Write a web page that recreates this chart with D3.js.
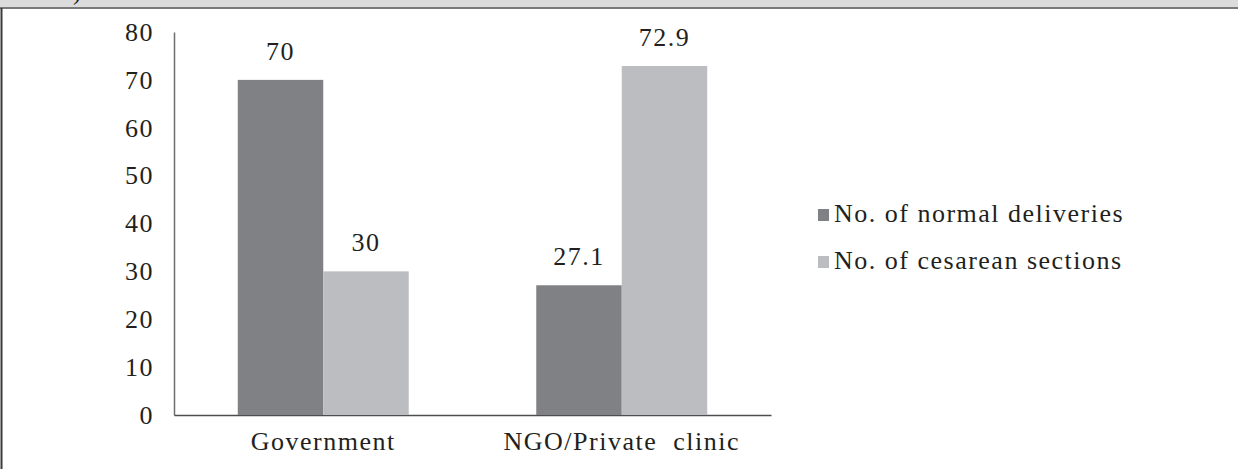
<!DOCTYPE html>
<html>
<head>
<meta charset="utf-8">
<script src="https://cdn.jsdelivr.net/npm/d3@7"></script>
<style>
  html, body { margin: 0; padding: 0; background: #fff; }
  svg { display: block; }
  text { font-family: "Liberation Serif", "Times New Roman", serif; fill: #231f20; letter-spacing: 1.5px; }
</style>
</head>
<body>
<svg id="chart" width="1238" height="469"></svg>
<script>
// Delivery type by facility (%)
const categories = ["Government", "NGO/Private  clinic"];
const seriesNames = ["No. of normal deliveries", "No. of cesarean sections"];
const normalDeliveries = [70, 27.1];
const cesareanSections = [30, 72.9];
const yTicks = [0, 10, 20, 30, 40, 50, 60, 70, 80];

const seriesValues = [normalDeliveries, cesareanSections];
const colors = ["#808184", "#bcbdc0"];

const svg = d3.select("#chart");
const W = 1238, H = 469;
const FONT = '"Liberation Serif", "Times New Roman", serif';

// header strip with rule and left frame line
svg.append("rect").attr("x", 0).attr("y", 0).attr("width", W).attr("height", 8).attr("fill", "#dcdcdc");
svg.append("line").attr("x1", 0).attr("x2", W).attr("y1", 8).attr("y2", 8)
  .attr("stroke", "#7a7a7a").attr("stroke-width", 2);
svg.append("line").attr("x1", 1.5).attr("x2", 1.5).attr("y1", 8).attr("y2", H)
  .attr("stroke", "#3a3a3a").attr("stroke-width", 2);
svg.append("text").attr("x", 73).attr("y", 0).attr("font-size", 24).text(")");

const plot = { left: 174, right: 771, top: 32, bottom: 415 };

const x0 = d3.scaleBand().domain(categories).range([plot.left, plot.right]).padding(0);
const x1 = d3.scaleBand().domain(seriesNames).range([0, x0.bandwidth()])
  .paddingInner(0).paddingOuter(0.746);
const y = d3.scaleLinear().domain([0, 80]).range([plot.bottom, plot.top]);

const fs = 26;

// y axis
const yAxis = d3.axisLeft(y).tickValues(yTicks).tickSize(0).tickPadding(20).tickFormat(d3.format("d"));
const gy = svg.append("g").attr("transform", `translate(${plot.left},0)`).call(yAxis);
gy.select(".domain").attr("stroke", "#6d6e71").attr("stroke-width", 1.5);
gy.selectAll("text").attr("font-size", fs).attr("fill", "#231f20")
  .attr("font-family", FONT).attr("dy", "0.32em");

// x baseline with category labels
const xAxis = d3.axisBottom(x0).tickSize(0).tickPadding(0);
const gx = svg.append("g").attr("transform", `translate(0,${plot.bottom})`).call(xAxis);
gx.select(".domain").attr("stroke", "#4d4d4f").attr("stroke-width", 1.5);
gx.selectAll("text").attr("font-size", fs).attr("fill", "#231f20")
  .attr("font-family", FONT).attr("dy", 0).attr("y", 35)
  .style("white-space", "pre");

// bars
const rows = categories.map((c, i) => ({ cat: c, vals: seriesNames.map((s, j) => ({ s, j, v: seriesValues[j][i] })) }));
const groups = svg.append("g").selectAll("g").data(rows).join("g")
  .attr("transform", d => `translate(${x0(d.cat)},0)`);
groups.selectAll("rect").data(d => d.vals).join("rect")
  .attr("x", d => x1(d.s)).attr("width", x1.bandwidth())
  .attr("y", d => y(d.v)).attr("height", d => y(0) - y(d.v))
  .attr("fill", d => colors[d.j]);
groups.selectAll("text.val").data(d => d.vals).join("text").attr("class", "val")
  .attr("x", d => x1(d.s) + x1.bandwidth() / 2).attr("y", d => y(d.v) - 20)
  .attr("text-anchor", "middle").attr("font-size", fs)
  .text(d => d.v);

// legend
const legend = svg.append("g").attr("transform", "translate(818,0)");
const ly = [222, 269];
seriesNames.forEach((s, j) => {
  legend.append("rect").attr("x", 0).attr("y", ly[j] - 13).attr("width", 11).attr("height", 12).attr("fill", colors[j]);
  legend.append("text").attr("x", 16).attr("y", ly[j]).attr("font-size", fs).text(s);
});
</script>
</body>
</html>
